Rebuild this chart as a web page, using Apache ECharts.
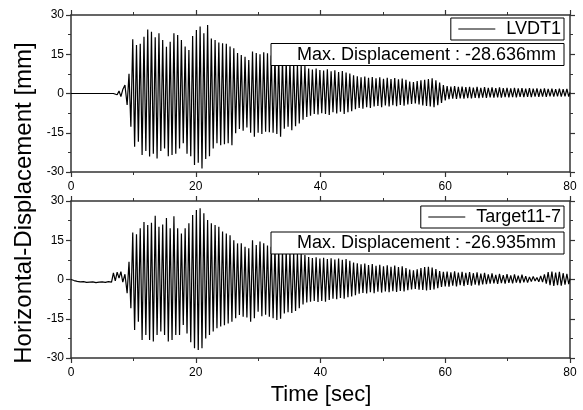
<!DOCTYPE html>
<html>
<head>
<meta charset="utf-8">
<script src="https://cdn.jsdelivr.net/npm/echarts@6/dist/echarts.min.js"></script>
<style>
html,body{margin:0;padding:0;background:#fff;}
#chart{width:583px;height:410px;}
</style>
</head>
<body>
<div id="chart"></div>
<script>
// ---- data ----
const seriesNames = ['LVDT1', 'Target11-7'];
const maxLabels = ['Max. Displacement : -28.636mm', 'Max. Displacement : -26.935mm'];
const xTicks = [0, 20, 40, 60, 80];
const yTicks = [-30, -15, 0, 15, 30];

// pre-event part (time s, displacement mm)
const preTopT = [0, 6.8, 7.1, 7.4, 7.7, 8.0, 8.3, 8.65, 9.0, 9.3, 9.6];
const preTopV = [0, 0, 0.6, -0.5, 1.0, -1.2, 1.5, 3.2, -4.4, 7.5, -12.7];
const preBotT = [0, 0.5, 1, 1.5, 2, 2.5, 3, 3.5, 4, 4.5, 5, 5.5, 6, 6.5, 6.8, 7.1, 7.4, 7.7, 8.0, 8.3, 8.65, 9.0, 9.3, 9.6];
const preBotV = [0, -0.4, -0.7, -0.9, -0.8, -1.1, -1.0, -0.9, -1.2, -1.0, -0.9, -1.1, -0.8, -1.0, 2.5, -0.5, 2.8, 0.5, 3.0, -1.0, 2.0, -5.2, 6.8, -11];

// oscillation: one positive and one negative peak per cycle
const cycleStart = 9.9;   // s
const cyclePeriod = 0.6;  // s

const topPos = [20.7,18.5,19,21.7,24.5,23.6,21.5,23,20.4,17.9,19.8,23,22.4,20.4,18,16.6,22,24.3,25.6,23,26.2,21,20.4,19.5,19.2,19,18,17.3,15.5,14.7,
14,12.8,16,15.5,15,15.8,15.4,14.5,14,13.5,13,12.5,12,11.5,11,10.8,10.5,9.5,9.2,9.5,9,8.8,9.3,8.5,8.9,8.2,8.6,8,7.6,7,
6.6,6.2,6.5,6,6.3,5.8,6.2,5.6,6,5.5,5.9,5.4,5.7,5.2,4.6,4.4,4.8,5,5.2,5.5,5.8,5,4.2,3.2,2.8,2.6,2.8,2.5,2.6,2.4,
2.5,2.3,2.5,2.2,2.4,2.2,2.3,2.1,2.3,2.1,2.2,2,2.2,2,2.1,1.9,2.1,1.9,2,1.8,2,1.8,1.9,1.7,1.9,1.7,1.8];
const topNeg = [-20.3,-18.4,-23.5,-22,-24.1,-23,-24.8,-22,-21,-24,-23.5,-23,-21,-19,-23,-24,-27.3,-26.5,-28.636,-25,-24,-21,-19,-19.8,-19.4,-19,-19.8,-15.2,-13.6,-14.2,
-13,-15,-16.5,-15,-15.5,-14.6,-14.8,-15,-15.5,-16.5,-13.5,-12.7,-14,-12.5,-11.5,-10,-9,-8.5,-7.8,-8,-7.5,-7.8,-8.2,-7.2,-7.6,-7,-7.8,-7.2,-6.8,-6,
-5.5,-5.8,-5.2,-5.5,-5,-4.8,-5.2,-4.6,-5,-4.5,-4.9,-4.4,-4.7,-4.2,-4,-3.8,-4.2,-4.6,-4.8,-5,-5.2,-4.5,-3.6,-2.6,-2.2,-2,-2.1,-1.9,-2,-1.8,
-1.9,-1.7,-1.8,-1.6,-1.7,-1.5,-1.6,-1.5,-1.6,-1.4,-1.5,-1.4,-1.5,-1.3,-1.4,-1.3,-1.4,-1.2,-1.3,-1.2,-1.3,-1.1,-1.2,-1.1,-1.2,-1.1,-1.2];

const botPos = [18,17.3,19.6,22,20.8,21.7,24.4,20.2,21,23.5,19.6,24.2,19.6,17.6,19.6,21.5,24.6,26.6,27.2,25.3,22.7,21.5,20.8,20.2,18.3,17.6,16.9,15,13.8,13.8,
12.5,11.9,15,13.2,14.5,13.8,13,12.5,12,11.5,11,11.2,10.5,10.3,10,9.8,9.4,8.6,8.2,8.5,8,8.3,7.8,8.1,7.6,8,7.5,7.8,7.2,6.5,
6.2,5.8,6.1,5.5,5.9,5.2,5.6,5,5.4,4.9,5.3,4.8,5,4.4,3.8,3.5,3.9,4.4,4.8,4.9,4.6,4,3.2,2.9,3,2.7,3.1,2.6,2.9,2.5,
2.8,2.4,2.7,2.3,2.5,2,2.3,1.8,2.2,1.7,2.1,1.6,2,1.5,1.9,1.3,1,1.2,0.8,1.4,2,2.8,3,2.6,2.9,2.4,2.2];
const botNeg = [-19.3,-16.1,-23.1,-21.2,-23.1,-23.7,-21.2,-19.9,-21.2,-23.7,-23.1,-21.2,-21.2,-17.4,-20.6,-24,-26.3,-26.935,-26.3,-22.5,-21.2,-19.9,-18.6,-18,-17.5,-16.8,-16.1,-14.8,-13.6,-14.2,
-14.5,-16.1,-14.8,-12.3,-14,-13.5,-14.2,-14.8,-15.5,-15,-13,-12.5,-12.8,-12,-11,-9.5,-8.8,-8.5,-8.2,-8.6,-8.2,-8.5,-7.8,-7.3,-7.5,-7.1,-7.3,-6.8,-6.5,-6,
-5.4,-5.1,-5.3,-4.9,-5.2,-4.7,-5,-4.6,-4.9,-4.5,-4.8,-4.4,-4.6,-4.1,-3.8,-3.6,-3.9,-4,-4.2,-4,-3.8,-3.3,-2.8,-2.6,-2.7,-2.4,-2.6,-2.2,-2.5,-2.1,
-2.4,-2,-2.3,-1.9,-1.8,-1.6,-1.5,-1.7,-1.4,-1.6,-1.3,-1.5,-1.2,-1.4,-1.1,-1.2,-0.8,-0.6,-0.9,-1,-1.6,-2.2,-2.5,-2.2,-2.4,-2,-1.8];

const tailT = [80];
const tailTop = [0.4];
const tailBot = [0.3];

// ---- build ----
function build(preT, preV, pos, neg, tailV) {
  const d = preT.map((t, i) => [t, preV[i]]);
  const n = Math.min(pos.length, neg.length);
  for (let i = 0; i < n; i++) {
    const t = cycleStart + i * cyclePeriod;
    d.push([+t.toFixed(3), pos[i]]);
    d.push([+(t + cyclePeriod / 2).toFixed(3), neg[i]]);
  }
  tailT.forEach((t, i) => d.push([t, tailV[i]]));
  return d;
}
const dataTop = build(preTopT, preTopV, topPos, topNeg, tailTop);
const dataBot = build(preBotT, preBotV, botPos, botNeg, tailBot);

const FONT = '"Liberation Sans", Arial, sans-serif';
const AX = '#333';

function xAx(grid, pos, labels) {
  return {
    type: 'value', gridIndex: grid, position: pos,
    min: xTicks[0], max: xTicks[xTicks.length - 1], interval: 20,
    axisLine: {show: true, onZero: false, lineStyle: {color: AX, width: 1.5}},
    axisTick: {show: true, inside: false, length: 5, lineStyle: {color: AX, width: 1.2}},
    minorTick: {show: true, splitNumber: 2, length: 3, lineStyle: {color: AX, width: 1}},
    splitLine: {show: false},
    axisLabel: {show: labels, color: '#000', fontSize: 12, fontFamily: FONT, margin: 9}
  };
}
function yAx(grid, pos, labels) {
  return {
    type: 'value', gridIndex: grid, position: pos,
    min: yTicks[0], max: yTicks[yTicks.length - 1], interval: 15,
    axisLine: {show: true, onZero: false, lineStyle: {color: AX, width: 1.5}},
    axisTick: {show: true, inside: false, length: 5, lineStyle: {color: AX, width: 1.2}},
    minorTick: {show: true, splitNumber: 2, length: 3, lineStyle: {color: AX, width: 1}},
    splitLine: {show: false},
    axisLabel: {show: labels, color: '#000', fontSize: 12, fontFamily: FONT, margin: 7}
  };
}

function legendCfg(name, top) {
  return {
    data: [name], right: 19, top: top, orient: 'horizontal',
    backgroundColor: '#fff', borderColor: '#000', borderWidth: 1, borderRadius: 0,
    padding: [2, 3, 2, 7], itemWidth: 37, itemHeight: 14, itemGap: 0,
    itemStyle: {opacity: 0},
    lineStyle: {width: 1, color: '#000'},
    textStyle: {fontSize: 18, fontFamily: FONT, color: '#000', padding: [0, 0, 0, 6]},
    z: 10, selectedMode: false
  };
}

function maxBox(text, top) {
  return {
    type: 'group', z: 100,
    children: [
      {type: 'rect', z: 100, shape: {x: 271, y: top, width: 293, height: 22},
       style: {fill: '#fff', stroke: '#000', lineWidth: 1}},
      {type: 'text', z: 101, style: {x: 556, y: top + 11.5, text: text, font: '18px ' + FONT,
       textAlign: 'right', textVerticalAlign: 'middle', fill: '#000'}}
    ]
  };
}

const chart = echarts.init(document.getElementById('chart'), null, {renderer: 'canvas'});
chart.setOption({
  animation: false,
  backgroundColor: '#fff',
  grid: [
    {left: 71, top: 15, width: 499, height: 157},
    {left: 71, top: 201, width: 499, height: 157}
  ],
  xAxis: [xAx(0, 'bottom', true), xAx(0, 'top', false), xAx(1, 'bottom', true), xAx(1, 'top', false)],
  yAxis: [yAx(0, 'left', true), yAx(0, 'right', false), yAx(1, 'left', true), yAx(1, 'right', false)],
  legend: [legendCfg(seriesNames[0], 18), legendCfg(seriesNames[1], 206)],
  graphic: [
    maxBox(maxLabels[0], 43.5),
    maxBox(maxLabels[1], 232),
    {type: 'text', z: 100, x: 24, y: 203, rotation: Math.PI / 2,
     style: {text: 'Horizontal-Displacement [mm]', font: '24px ' + FONT, textAlign: 'center', textVerticalAlign: 'middle', fill: '#000'}},
    {type: 'text', z: 100, x: 321, y: 395,
     style: {text: 'Time [sec]', font: '22px ' + FONT, textAlign: 'center', textVerticalAlign: 'middle', fill: '#000'}}
  ],
  series: [
    {name: seriesNames[0], type: 'line', xAxisIndex: 0, yAxisIndex: 0, data: dataTop,
     symbol: 'none', showSymbol: false, sampling: null, lineStyle: {color: '#000', width: 1.2}, itemStyle: {color: '#000'}},
    {name: seriesNames[1], type: 'line', xAxisIndex: 2, yAxisIndex: 2, data: dataBot,
     symbol: 'none', showSymbol: false, sampling: null, lineStyle: {color: '#000', width: 1.2}, itemStyle: {color: '#000'}}
  ]
});
</script>
</body>
</html>
